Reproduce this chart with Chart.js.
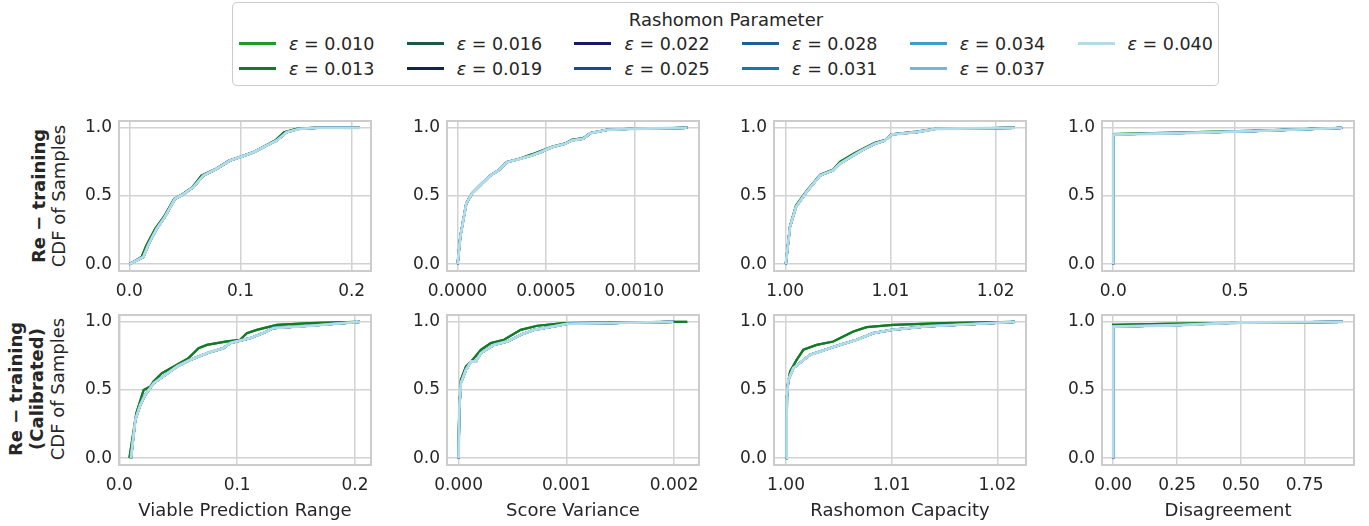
<!DOCTYPE html>
<html>
<head>
<meta charset="utf-8">
<script src="https://cdn.jsdelivr.net/npm/chart.js@4/dist/chart.umd.min.js"></script>
<style>
  html, body { margin: 0; padding: 0; background: #ffffff; }
  body { position: relative; width: 1369px; height: 526px; overflow: hidden; font-family: "DejaVu Sans", sans-serif; color: #262626; }
  canvas { position: absolute; }
  .rowlab { position: absolute; transform: translate(-50%, -50%) rotate(-90deg); white-space: nowrap; text-align: center; font-size: 18px; }
  #legend { position: absolute; left: 232px; top: 2px; width: 987px; height: 84px; border: 1.5px solid #cccccc; border-radius: 5px; box-sizing: border-box; }
  .legtitle { position: absolute; transform: translate(-50%, -50%); font-size: 18px; white-space: nowrap; }
  .leghandle { position: absolute; width: 37px; height: 2.5px; }
  .legtext { position: absolute; transform: translateY(-50%); font-size: 17.5px; white-space: nowrap; }
  .legtext i { font-style: italic; }
</style>
</head>
<body>
<div id="legend"></div>
<div class="rowlab" style="left:48px; top:196px; line-height:19.5px;"><b>Re − training</b><br>CDF of Samples</div>
<div class="rowlab" style="left:37px; top:389px; line-height:20.75px;"><b>Re − training</b><br><b>(Calibrated)</b><br>CDF of Samples</div>
<script>
// ---------------- DATA ----------------
const epsilonLabels = ['0.010', '0.013', '0.016', '0.019', '0.022', '0.025', '0.028', '0.031', '0.034', '0.037', '0.040'];
const seriesColors = ['#239b23', '#127a2a', '#1d5745', '#0f2552', '#16196b', '#1a4a8e', '#1f5f98', '#1778ae', '#3d9dcc', '#74b7d6', '#b3dbe8'];
const legendTitle = 'Rashomon Parameter';
const cdfTicks = [0, 0.5, 1.0];
const cdfTickLabels = ['0.0', '0.5', '1.0'];

// Viable Prediction Range
const vprTicks = [0, 0.1, 0.2];
const vprTickLabels = ['0.0', '0.1', '0.2'];
const vprRetrainGreenX = [0.0, 0.011, 0.0155, 0.0232, 0.031, 0.0403, 0.0462, 0.0568, 0.0648, 0.078, 0.0898, 0.0992, 0.111, 0.1228, 0.1312, 0.1392, 0.1505, 0.164, 0.2075];
const vprRetrainGreenY = [0.0, 0.053, 0.14, 0.26, 0.346, 0.48, 0.505, 0.565, 0.65, 0.70, 0.76, 0.785, 0.82, 0.87, 0.907, 0.968, 0.993, 1.0, 1.0];
const vprRetrainBlueX = [0.0, 0.0126, 0.017, 0.0246, 0.032, 0.041, 0.047, 0.0576, 0.0666, 0.0786, 0.0906, 0.0996, 0.1115, 0.1236, 0.1326, 0.1415, 0.1535, 0.1685, 0.2075];
const vprRetrainBlueY = [0.0, 0.053, 0.14, 0.26, 0.346, 0.48, 0.505, 0.565, 0.65, 0.70, 0.76, 0.785, 0.82, 0.87, 0.907, 0.968, 0.993, 1.0, 1.0];
const vprCalibGreenX = [0.0085, 0.0144, 0.0206, 0.0263, 0.029, 0.0362, 0.0489, 0.0587, 0.0672, 0.0743, 0.0913, 0.1025, 0.1082, 0.1167, 0.1336, 0.1619, 0.2014];
const vprCalibGreenY = [0.0, 0.33, 0.50, 0.525, 0.562, 0.624, 0.685, 0.734, 0.807, 0.831, 0.856, 0.868, 0.917, 0.941, 0.978, 0.99, 1.0];
const vprCalibBlueX = [0.0099, 0.01356, 0.0178, 0.022, 0.0291, 0.039, 0.0489, 0.0602, 0.0743, 0.0884, 0.094, 0.111, 0.1252, 0.1308, 0.1619, 0.19, 0.2042];
const vprCalibBlueY = [0.0, 0.281, 0.391, 0.465, 0.55, 0.611, 0.672, 0.721, 0.77, 0.807, 0.844, 0.88, 0.929, 0.954, 0.971, 0.99, 1.0];

// Score Variance
const svRetrainTicks = [0, 0.0005, 0.001];
const svRetrainTickLabels = ['0.0000', '0.0005', '0.0010'];
const svCalibTicks = [0, 0.001, 0.002];
const svCalibTickLabels = ['0.000', '0.001', '0.002'];
const svRetrainGreenX = [0, 0.0000153, 0.000049, 0.000081, 0.000128, 0.000185, 0.000232, 0.000279, 0.000354, 0.00042, 0.000467, 0.000533, 0.000609, 0.000646, 0.000712, 0.00075, 0.000844, 0.000995, 0.0013];
const svRetrainGreenY = [0, 0.205, 0.447, 0.52, 0.582, 0.652, 0.69, 0.75, 0.775, 0.805, 0.828, 0.86, 0.886, 0.912, 0.925, 0.962, 0.986, 0.994, 1.0];
const svRetrainBlueX = [0, 0.0000153, 0.000049, 0.000081, 0.000128, 0.000185, 0.000232, 0.000279, 0.000354, 0.00042, 0.000467, 0.000533, 0.000609, 0.000646, 0.000712, 0.00075, 0.000844, 0.000995, 0.0013];
const svRetrainBlueY = [0, 0.2, 0.444, 0.517, 0.578, 0.65, 0.688, 0.748, 0.773, 0.797, 0.82, 0.858, 0.883, 0.907, 0.92, 0.96, 0.985, 0.993, 1.0];
const svCalibGreenX = [0, 0.0000055, 0.000021, 0.0000675, 0.000129, 0.000206, 0.000299, 0.000421, 0.000576, 0.00073, 0.000976, 0.001993, 0.002122];
const svCalibGreenY = [0, 0.37, 0.575, 0.672, 0.721, 0.795, 0.844, 0.868, 0.941, 0.971, 0.99, 1.0, 1.0];
const svCalibBlueX = [0, 0.0000055, 0.000021, 0.0000675, 0.000114, 0.00016, 0.000206, 0.000329, 0.000453, 0.000576, 0.000699, 0.000884, 0.001007, 0.001993];
const svCalibBlueY = [0, 0.354, 0.55, 0.648, 0.709, 0.709, 0.77, 0.831, 0.856, 0.905, 0.941, 0.966, 0.985, 1.0];

// Rashomon Capacity
const rcTicks = [1.0, 1.01, 1.02];
const rcTickLabels = ['1.00', '1.01', '1.02'];
const rcRetrainGreenX = [1.00005, 1.00045, 1.00102, 1.00203, 1.0033, 1.00456, 1.0052, 1.00646, 1.00726, 1.00853, 1.00948, 1.01011, 1.01249, 1.01439, 1.02183];
const rcRetrainGreenY = [0, 0.28, 0.43, 0.537, 0.655, 0.695, 0.75, 0.808, 0.842, 0.89, 0.91, 0.953, 0.972, 0.995, 1.0];
const rcRetrainBlueX = [1.00005, 1.00045, 1.00102, 1.00203, 1.0033, 1.00456, 1.0052, 1.00646, 1.00726, 1.00853, 1.00948, 1.01011, 1.01249, 1.01439, 1.02183];
const rcRetrainBlueY = [0, 0.273, 0.42, 0.53, 0.65, 0.688, 0.737, 0.797, 0.834, 0.883, 0.907, 0.951, 0.968, 0.993, 1.0];
const rcCalibGreenX = [1.0, 1.00012, 1.00038, 1.001, 1.00164, 1.0029, 1.00447, 1.00542, 1.00637, 1.00763, 1.01015, 1.01488, 1.02167];
const rcCalibGreenY = [0, 0.52, 0.635, 0.721, 0.795, 0.831, 0.856, 0.892, 0.929, 0.961, 0.978, 0.99, 1.0];
const rcCalibBlueX = [1.0, 1.00006, 1.00022, 1.00069, 1.00148, 1.00227, 1.00322, 1.00511, 1.00669, 1.00826, 1.01, 1.01331, 1.01804, 1.02167];
const rcCalibBlueY = [0, 0.428, 0.574, 0.66, 0.709, 0.758, 0.782, 0.831, 0.868, 0.917, 0.941, 0.966, 0.985, 1.0];

// Disagreement
const disRetrainTicks = [0, 0.5];
const disRetrainTickLabels = ['0.0', '0.5'];
const disCalibTicks = [0, 0.25, 0.5, 0.75];
const disCalibTickLabels = ['0.00', '0.25', '0.50', '0.75'];
const disRetrainGreenX = [0, 0, 0.3, 0.6, 0.94];
const disRetrainGreenY = [0, 0.955, 0.966, 0.98, 1.0];
const disRetrainBlueX = [0, 0, 0.3, 0.6, 0.94];
const disRetrainBlueY = [0, 0.951, 0.962, 0.978, 1.0];
const disCalibGreenX = [0, 0, 0.2, 0.4, 0.9];
const disCalibGreenY = [0, 0.978, 0.985, 0.99, 1.0];
const disCalibBlueX = [0, 0, 0.25, 0.5, 0.9];
const disCalibBlueY = [0, 0.965, 0.975, 0.995, 1.0];

const xTitles = ['Viable Prediction Range', 'Score Variance', 'Rashomon Capacity', 'Disagreement'];

// ---------------- LAYOUT ----------------
const FONT = 'DejaVu Sans';
const TXT = '#262626';
const PLOT_W = 252, PLOT_H = 150, AX_W = 70, PAD_T = 24, PAD_R = 34;
const colLeft = [119, 447, 774, 1102];
const rowTop = [121, 315];
const canvasBottom = [311, 526];

const panels = [
  { r: 0, c: 0, xmin: -0.0093, xmax: 0.2174, ticks: vprTicks, labels: vprTickLabels, gx: vprRetrainGreenX, gy: vprRetrainGreenY, bx: vprRetrainBlueX, by: vprRetrainBlueY },
  { r: 0, c: 1, xmin: -0.00006, xmax: 0.001366, ticks: svRetrainTicks, labels: svRetrainTickLabels, gx: svRetrainGreenX, gy: svRetrainGreenY, bx: svRetrainBlueX, by: svRetrainBlueY },
  { r: 0, c: 2, xmin: 0.99893, xmax: 1.02288, ticks: rcTicks, labels: rcTickLabels, gx: rcRetrainGreenX, gy: rcRetrainGreenY, bx: rcRetrainBlueX, by: rcRetrainBlueY },
  { r: 0, c: 3, xmin: -0.046, xmax: 0.989, ticks: disRetrainTicks, labels: disRetrainTickLabels, gx: disRetrainGreenX, gy: disRetrainGreenY, bx: disRetrainBlueX, by: disRetrainBlueY },
  { r: 1, c: 0, xmin: -0.0003, xmax: 0.2136, ticks: vprTicks, labels: vprTickLabels, gx: vprCalibGreenX, gy: vprCalibGreenY, bx: vprCalibBlueX, by: vprCalibBlueY },
  { r: 1, c: 1, xmin: -0.000108, xmax: 0.002231, ticks: svCalibTicks, labels: svCalibTickLabels, gx: svCalibGreenX, gy: svCalibGreenY, bx: svCalibBlueX, by: svCalibBlueY },
  { r: 1, c: 2, xmin: 0.99886, xmax: 1.02271, ticks: rcTicks, labels: rcTickLabels, gx: rcCalibGreenX, gy: rcCalibGreenY, bx: rcCalibBlueX, by: rcCalibBlueY },
  { r: 1, c: 3, xmin: -0.044, xmax: 0.943, ticks: disCalibTicks, labels: disCalibTickLabels, gx: disCalibGreenX, gy: disCalibGreenY, bx: disCalibBlueX, by: disCalibBlueY }
];

function pts(xs, ys) { return xs.map((x, i) => ({ x: x, y: ys[i] })); }

const framePlugin = {
  id: 'frame',
  afterDatasetsDraw(chart) {
    const a = chart.chartArea, ctx = chart.ctx;
    ctx.save();
    ctx.strokeStyle = '#cccccc';
    ctx.lineWidth = 2;
    ctx.strokeRect(a.left, a.top, a.right - a.left, a.bottom - a.top);
    ctx.restore();
  }
};

panels.forEach(p => {
  const W = AX_W + PLOT_W + PAD_R;
  const top = rowTop[p.r] - PAD_T;
  const H = canvasBottom[p.r] - top;
  const xAxisH = H - PAD_T - PLOT_H;
  const cv = document.createElement('canvas');
  cv.width = W; cv.height = H;
  cv.style.left = (colLeft[p.c] - AX_W) + 'px';
  cv.style.top = top + 'px';
  cv.style.width = W + 'px'; cv.style.height = H + 'px';
  document.body.appendChild(cv);

  const datasets = epsilonLabels.map((e, i) => ({
    label: 'ε = ' + e,
    data: i < 2 ? pts(p.gx, p.gy) : pts(p.bx, p.by),
    borderColor: seriesColors[i],
    backgroundColor: seriesColors[i],
    borderWidth: i === 10 ? 2.8 : 2.2,
    pointRadius: 0,
    fill: false,
    tension: 0,
    order: 10 - i
  }));

  new Chart(cv, {
    type: 'line',
    data: { datasets: datasets },
    options: {
      responsive: false,
      animation: false,
      devicePixelRatio: 1,
      layout: { padding: { left: 0, top: PAD_T, right: PAD_R, bottom: 0 } },
      plugins: { legend: { display: false }, tooltip: { enabled: false } },
      scales: {
        x: {
          type: 'linear', min: p.xmin, max: p.xmax,
          afterBuildTicks: s => { s.ticks = p.ticks.map(v => ({ value: v })); },
          afterFit: s => { s.height = xAxisH; },
          ticks: { autoSkip: false, maxRotation: 0, padding: 10, color: TXT, font: { family: FONT, size: 17 },
                   callback: (v, i) => p.labels[i] },
          grid: { color: '#d2d2d2', lineWidth: 1.5, drawTicks: false },
          border: { display: false },
          title: p.r === 1 ? { display: true, text: xTitles[p.c], color: TXT, font: { family: FONT, size: 18 }, padding: { top: 0, bottom: 4 } } : { display: false }
        },
        y: {
          type: 'linear', min: -0.05, max: 1.05,
          afterBuildTicks: s => { s.ticks = cdfTicks.map(v => ({ value: v })); },
          afterFit: s => { s.width = AX_W; },
          ticks: { autoSkip: false, padding: 7, color: TXT, font: { family: FONT, size: 17 },
                   callback: (v, i) => cdfTickLabels[i] },
          grid: { color: '#d2d2d2', lineWidth: 1.5, drawTicks: false },
          border: { display: false }
        }
      }
    },
    plugins: [framePlugin]
  });
});

// ---------------- LEGEND (HTML) ----------------
const leg = document.getElementById('legend');
const t = document.createElement('div');
t.className = 'legtitle';
t.textContent = legendTitle;
t.style.left = (725 - 232) + 'px';
t.style.top = (18 - 2) + 'px';
leg.appendChild(t);
epsilonLabels.forEach((e, i) => {
  const c = Math.floor(i / 2), r = i % 2;
  const x = 239.5 + c * 167.7 - 232;
  const y = 44 + r * 25 - 2;
  const h = document.createElement('div');
  h.className = 'leghandle';
  h.style.left = (x - 1.5) + 'px';
  h.style.top = (y - 1.25 - 1.5) + 'px';
  h.style.background = seriesColors[i];
  leg.appendChild(h);
  const tx = document.createElement('div');
  tx.className = 'legtext';
  tx.innerHTML = '<i>ε</i> = ' + e;
  tx.style.left = (x + 50 - 1.5) + 'px';
  tx.style.top = (y - 1.5) + 'px';
  leg.appendChild(tx);
});
</script>
</body>
</html>
